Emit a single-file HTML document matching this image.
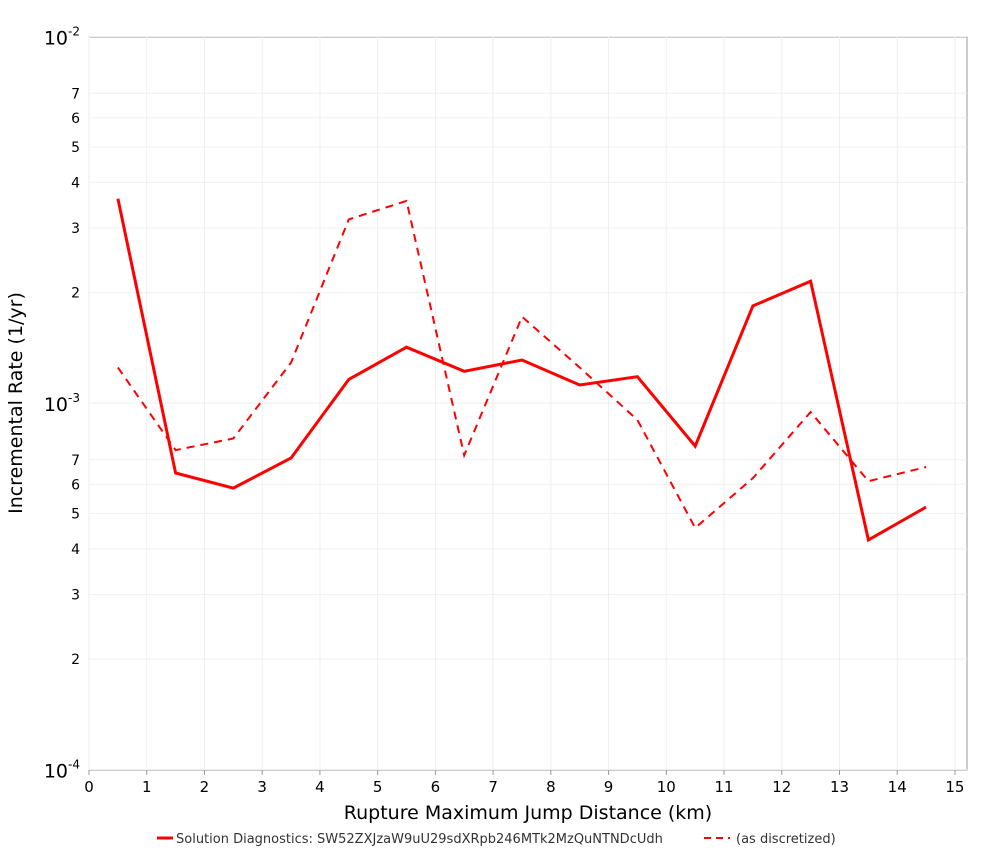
<!DOCTYPE html>
<html><head><meta charset="utf-8"><style>
body{margin:0;background:#fff;font-family:"DejaVu Sans","Liberation Sans",sans-serif}
svg text{font-family:"DejaVu Sans","Liberation Sans",sans-serif}
</style></head><body>
<svg id="chart" width="1000" height="850" xmlns="http://www.w3.org/2000/svg">
<rect x="89" y="37" width="878" height="733" fill="#fff" stroke="#999"/>
<g id="grid"></g><g id="axes"></g><g id="series"></g>
<text x="528" y="819" font-size="19" text-anchor="middle">Rupture Maximum Jump Distance (km)</text>
<text transform="translate(22,403) rotate(-90)" font-size="19" text-anchor="middle">Incremental Rate (1/yr)</text>
<g>
<line x1="157" y1="838" x2="173" y2="838" stroke="#f00" stroke-width="3"/>
<text x="176" y="843" font-size="13" fill="#333">Solution Diagnostics: SW52ZXJzaW9uU29sdXRpb246MTk2MzQuNTNDcUdh</text>
<line x1="704" y1="838" x2="730" y2="838" stroke="#f00" stroke-width="2" stroke-dasharray="7,5"/>
<text x="736" y="843" font-size="13" fill="#333">(as discretized)</text>
</g>
</svg>
<script>
const xCenters=[0.5,1.5,2.5,3.5,4.5,5.5,6.5,7.5,8.5,9.5,10.5,11.5,12.5,13.5,14.5];
const solidRates=[3.61e-3,6.44e-4,5.86e-4,7.08e-4,1.16e-3,1.42e-3,1.22e-3,1.31e-3,1.12e-3,1.18e-3,7.63e-4,1.84e-3,2.15e-3,4.23e-4,5.2e-4];
const dashedRates=[1.25e-3,7.44e-4,8.0e-4,1.29e-3,3.17e-3,3.56e-3,7.2e-4,1.72e-3,1.25e-3,8.99e-4,4.56e-4,6.24e-4,9.45e-4,6.12e-4,6.69e-4];
const xTicks=[0,1,2,3,4,5,6,7,8,9,10,11,12,13,14,15];
const yMinor=[2,3,4,5,6,7];
const NS="http://www.w3.org/2000/svg";
const X=v=>89+v*57.73;
const Y=v=>403-(Math.log10(v)+3)*366.5;
function mk(t,a,p){const e=document.createElementNS(NS,t);for(const k in a)e.setAttribute(k,a[k]);p.appendChild(e);return e;}
const grid=document.getElementById('grid'),axes=document.getElementById('axes'),ser=document.getElementById('series');
xTicks.forEach(t=>{
 const l=mk('line',{x1:X(t),x2:X(t),y1:37,y2:770,stroke:'#eeeeee'},grid);
 
 
 const tk=mk('line',{x1:X(t),x2:X(t),y1:770,y2:775,stroke:'#999'},axes);
 
 
 const tx=mk('text',{x:X(t),y:792,'font-size':15,'text-anchor':'middle'},axes);
 tx.textContent=t;
 
 
});
[-4,-3,-2].forEach(d=>{
 const y=Y(Math.pow(10,d));
 const l=mk('line',{x1:89,x2:967,y1:y,y2:y,stroke:'#eeeeee'},grid);
 
 
 const tx=mk('text',{x:80,y:y+8,'font-size':19,'text-anchor':'end'},axes);
 tx.innerHTML='10<tspan dy="-9" font-size="12">'+d+'</tspan>';
 
 
 if(d<-2) yMinor.forEach(m=>{
  const v=m*Math.pow(10,d),yy=Y(v);
  const g=mk('line',{x1:89,x2:967,y1:yy,y2:yy,stroke:'#f0f0f0'},grid);
  
  
  const t=mk('text',{x:80,y:yy+5,'font-size':14,'text-anchor':'end'},axes);
  t.textContent=m;
  
  
 });
});
function path(vals){return vals.map((v,i)=>(i?'L':'M')+X(xCenters[i]).toFixed(1)+','+Y(v).toFixed(1)).join('');}
const p1=mk('path',{d:path(dashedRates),fill:'none',stroke:'#f00','stroke-width':2,'stroke-dasharray':'8,6'},ser);


const p2=mk('path',{d:path(solidRates),fill:'none',stroke:'#f00','stroke-width':3},ser);


</script>
</body></html>
